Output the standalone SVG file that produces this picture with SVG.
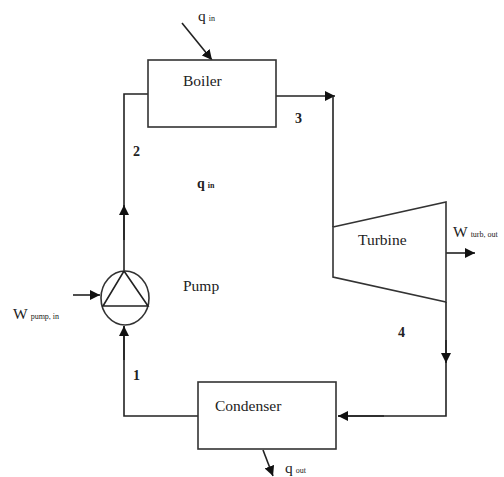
<svg xmlns="http://www.w3.org/2000/svg" width="504" height="477" viewBox="0 0 504 477">
<defs>
<style>
.box{fill:#fff;stroke:#333;stroke-width:1.6}
.ln{fill:none;stroke:#222;stroke-width:1.6}
.lbl{font-family:"Liberation Serif","Times New Roman",serif;font-size:15.5px;fill:#222}
.num{font-family:"Liberation Serif","Times New Roman",serif;font-size:14px;font-weight:bold;fill:#222}
.sub{font-family:"Liberation Serif","Times New Roman",serif;font-size:8px;fill:#222}
</style>
<marker id="ah" viewBox="0 0 10 10" refX="10" refY="5" markerWidth="10" markerHeight="10" markerUnits="userSpaceOnUse" orient="auto">
<path d="M0,0 L10,5 L0,10 z" fill="#111"/>
</marker>
</defs>
<rect width="504" height="477" fill="#fff"/>
<g id="connectors">
<path class="ln" d="M148,94 L124,94 L124,270"/>
<path class="ln" d="M124,240 L124,205" marker-end="url(#ah)"/>
<path class="ln" d="M276,96 L335,96" marker-end="url(#ah)"/>
<path class="ln" d="M333,96 L333,227"/>
<path class="ln" d="M446,302 L446,416 L338,416"/>
<path class="ln" d="M446,340 L446,363" marker-end="url(#ah)"/>
<path class="ln" d="M384,416 L338,416" marker-end="url(#ah)"/>
<path class="ln" d="M198,416 L124,416 L124,326"/>
<path class="ln" d="M124,360 L124,326" marker-end="url(#ah)"/>
<path class="ln" d="M182,23 L212,60" marker-end="url(#ah)" stroke-width="2"/>
<path class="ln" d="M263,450 L273,476" marker-end="url(#ah)" stroke-width="2"/>
<path class="ln" d="M73,295 L100,295" marker-end="url(#ah)" stroke-width="2"/>
<path class="ln" d="M446,253 L475,253" marker-end="url(#ah)" stroke-width="2"/>
</g>
<g id="boiler">
<rect class="box" x="148" y="60" width="128" height="67"/>
<text class="lbl" x="183" y="86">Boiler</text>
</g>
<g id="turbine">
<polygon class="box" points="333,227 446,202 446,302 333,277"/>
<text class="lbl" x="358" y="245">Turbine</text>
</g>
<g id="condenser">
<rect class="box" x="198" y="382" width="138" height="67"/>
<text class="lbl" x="215" y="411">Condenser</text>
</g>
<g id="pump">
<ellipse class="box" cx="125" cy="298" rx="24" ry="27"/>
<polygon class="ln" points="124,271 148,306 103,306"/>
<text class="lbl" x="183" y="291">Pump</text>
</g>
<g id="labels">
<text class="lbl" x="198" y="21">q<tspan class="sub" dx="3">in</tspan></text>
<text class="num" x="197" y="188">q<tspan class="sub" dx="3" font-weight="bold">in</tspan></text>
<text class="lbl" x="285" y="473">q<tspan class="sub" dx="3">out</tspan></text>
<text class="lbl" x="13" y="319">W<tspan class="sub" dx="3">pump, in</tspan></text>
<text class="lbl" x="453" y="237">W<tspan class="sub" dx="3">turb, out</tspan></text>
<text class="num" x="295" y="123">3</text>
<text class="num" x="133" y="156">2</text>
<text class="num" x="398" y="337">4</text>
<text class="num" x="133" y="380">1</text>
</g>
</svg>
